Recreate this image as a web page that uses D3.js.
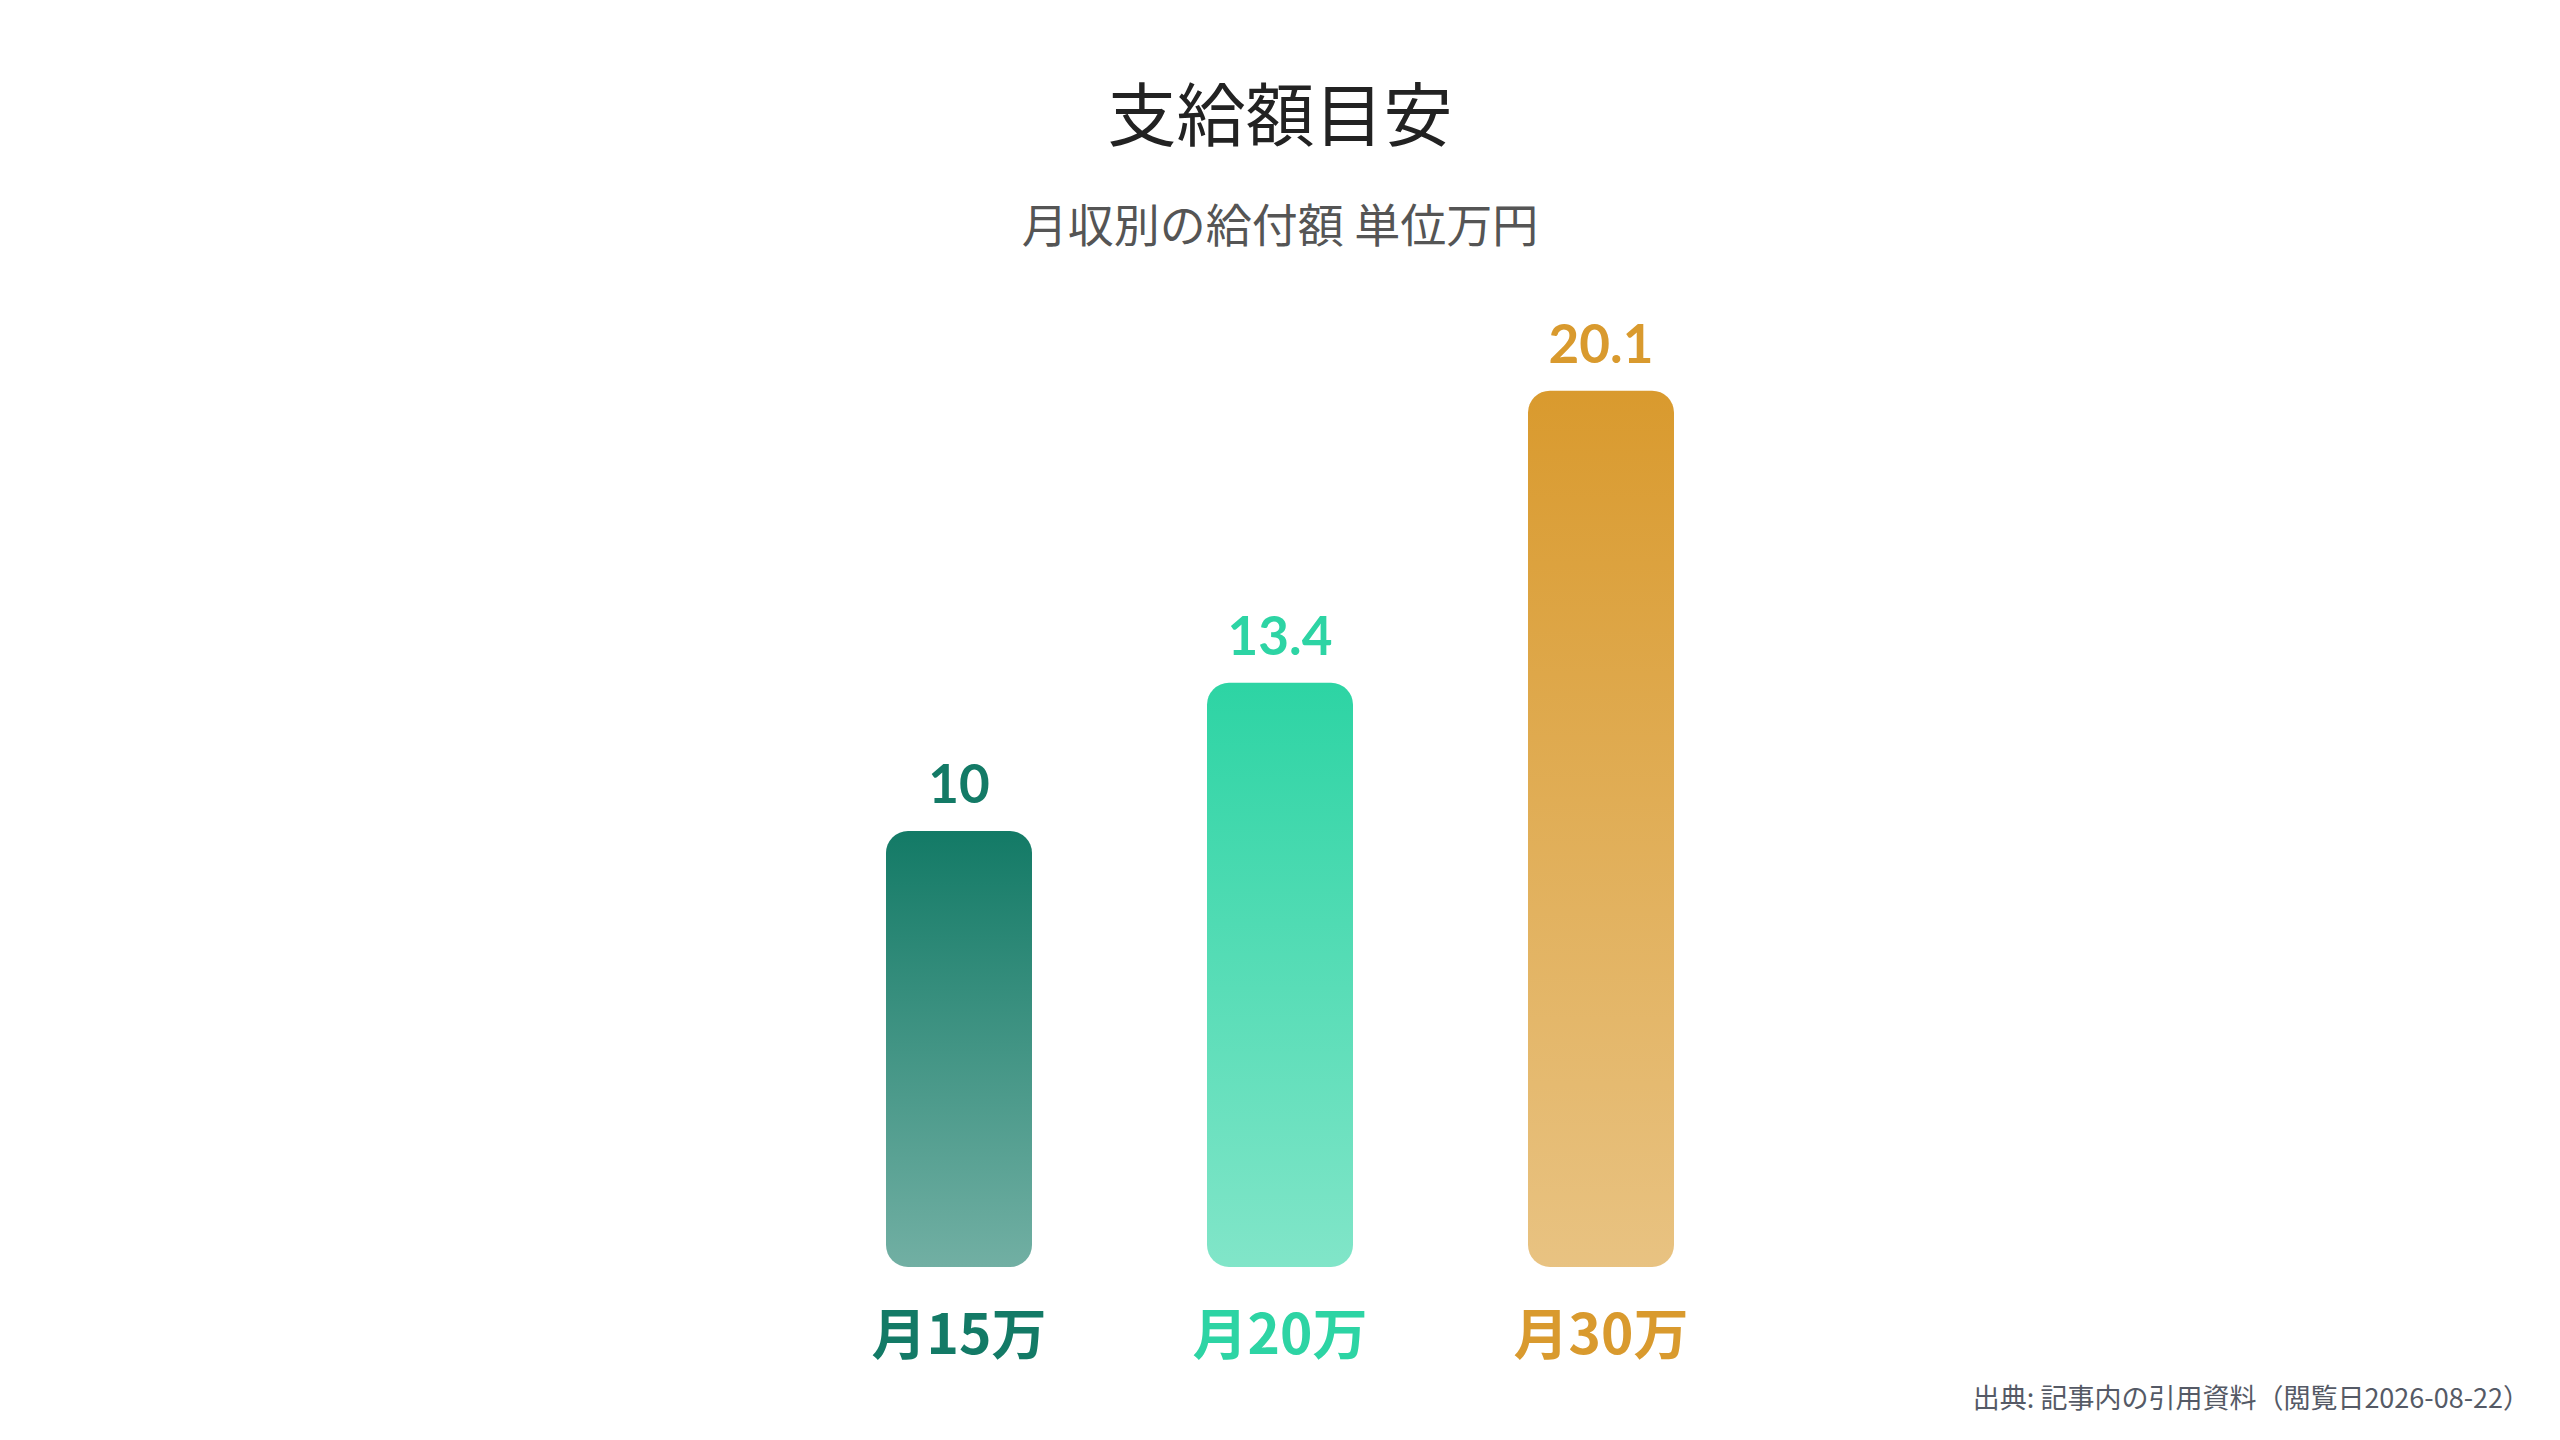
<!DOCTYPE html>
<html>
<head>
<meta charset="utf-8">
<script src="https://d3js.org/d3.v7.min.js"></script>
<style>
  html, body { margin: 0; padding: 0; background: #fff; }
</style>
</head>
<body>
<div id="chart"></div>
<script>

// data
var categories = ["月15万", "月20万", "月30万"];
var values = [10, 13.4, 20.1];
var valueLabels = ["10", "13.4", "20.1"];
var colors = ["#137a66", "#2dd4a4", "#d99a2e"];

var W = 2560, H = 1440;

var svg = d3.select("#chart")
  .append("svg")
    .attr("width", W)
    .attr("height", H)
    .style("font-family", "'Noto Sans CJK JP', 'Noto Sans', sans-serif");

// scales
var x = d3.scalePoint()
  .domain(categories)
  .range([959, 1601]);

var baseY = 1267;
var y = d3.scaleLinear()
  .domain([0, 22])
  .range([baseY, baseY - 22 * 43.6]);

var barW = 146;

// gradients, full colour at top fading toward the bottom
var defs = svg.append("defs");
categories.forEach(function(c, i) {
  var g = defs.append("linearGradient")
    .attr("id", "grad" + i)
    .attr("x1", 0).attr("y1", 0)
    .attr("x2", 0).attr("y2", 1);
  g.append("stop").attr("offset", "0%").attr("stop-color", colors[i]).attr("stop-opacity", 1);
  g.append("stop").attr("offset", "100%").attr("stop-color", colors[i]).attr("stop-opacity", 0.6);
});

// title
svg.append("text")
  .attr("x", W / 2)
  .attr("y", 141)
  .attr("text-anchor", "middle")
  .attr("font-size", "69px")
  .attr("font-weight", 400)
  .attr("fill", "#222")
  .text("支給額目安");

// subtitle
svg.append("text")
  .attr("x", W / 2)
  .attr("y", 242)
  .attr("text-anchor", "middle")
  .attr("font-size", "46px")
  .attr("fill", "#555")
  .text("月収別の給付額 単位万円");

// bars
svg.selectAll(".bar")
  .data(values)
  .enter().append("rect")
    .attr("class", "bar")
    .attr("x", function(d, i) { return x(categories[i]) - barW / 2; })
    .attr("y", function(d) { return y(d); })
    .attr("width", barW)
    .attr("height", function(d) { return y(0) - y(d); })
    .attr("rx", 22)
    .attr("ry", 22)
    .attr("fill", function(d, i) { return "url(#grad" + i + ")"; });

// value labels above bars
svg.selectAll(".val")
  .data(values)
  .enter().append("text")
    .attr("class", "val")
    .attr("x", function(d, i) { return x(categories[i]); })
    .attr("y", function(d) { return y(d) - 28; })
    .attr("text-anchor", "middle")
    .attr("font-family", "Lato, 'Open Sans', sans-serif")
    .attr("font-weight", 700)
    .attr("font-size", "53px")
    .attr("fill", function(d, i) { return colors[i]; })
    .text(function(d, i) { return valueLabels[i]; });

// category labels
svg.selectAll(".cat")
  .data(categories)
  .enter().append("text")
    .attr("class", "cat")
    .attr("x", function(d) { return x(d); })
    .attr("y", 1354)
    .attr("text-anchor", "middle")
    .attr("font-weight", 700)
    .attr("font-size", "55px")
    .attr("fill", function(d, i) { return colors[i]; })
    .text(function(d) { return d; });

// source note
svg.append("text")
  .attr("x", 2530)
  .attr("y", 1408)
  .attr("text-anchor", "end")
  .attr("font-size", "27px")
  .attr("fill", "#555a66")
  .text("出典: 記事内の引用資料（閲覧日2026-08-22）");

</script>
</body>
</html>
